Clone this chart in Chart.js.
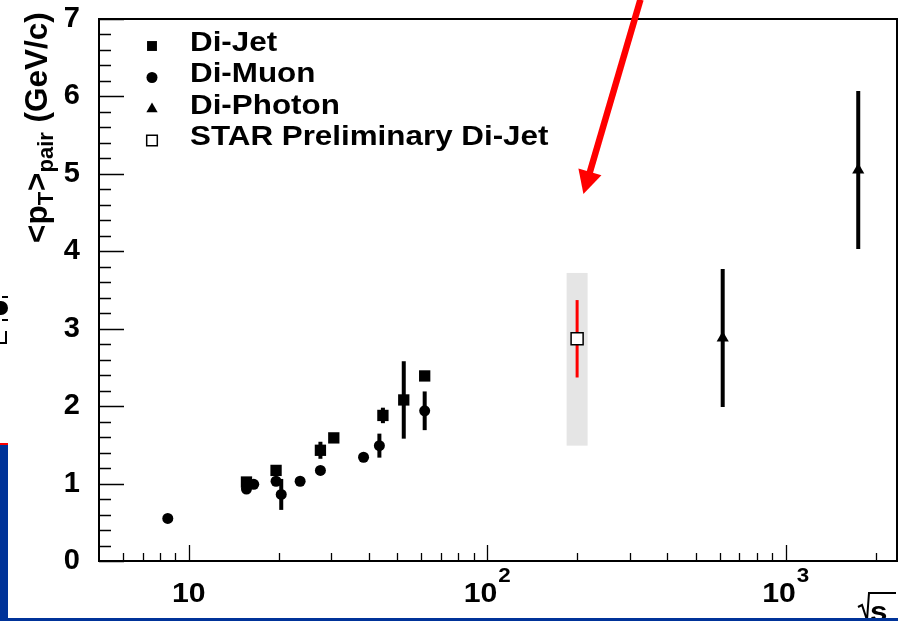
<!DOCTYPE html>
<html lang="en">
<head>
<meta charset="UTF-8">
<title>pT pair vs sqrt(s)</title>
<style>
  html, body { margin: 0; padding: 0; background: #fff; }
  #wrap { width: 910px; height: 621px; }
</style>
<script src="https://cdn.jsdelivr.net/npm/chart.js"></script>
</head>
<body>
<div id="wrap"><canvas id="c" width="910" height="621"></canvas></div>
<script>
// values
const jetX = [15.6, 19.6, 27.6, 30.6, 44.7, 52.5, 61.7];
const jetY = [1.02, 1.17, 1.43, 1.59, 1.88, 2.08, 2.39];
const jetErr = [0.03, 0.05, 0.11, 0.06, 0.1, 0.5, 0.06];

const muonX = [8.5, 15.6, 16.5, 19.6, 20.4, 23.6, 27.6, 38.5, 43.5, 61.7];
const muonY = [0.55, 0.93, 0.99, 1.03, 0.86, 1.03, 1.17, 1.34, 1.49, 1.94];
const muonErr = [0, 0, 0, 0, 0.2, 0, 0, 0, 0.155, 0.25];

const photonX = [615, 1750];
const photonY = [2.88, 5.05];
const photonErr = [0.89, 1.02];

const starX = [200];
const starY = [2.87];
const starErr = [0.5];
const starSysLow = [1.38];
const starSysHigh = [0.85];

const xTickValues = [10, 100, 1000];
const xTickBase = ['10', '10', '10'];
const xTickExp = ['', '2', '3'];
const yTitle = ['<p', 'T', '>', 'pair', ' (GeV/c)'];

// annotation arrow (data coords)
const arrowTail = { x: 326, y: 7.25 };
const arrowTip = { x: 210, y: 4.74 };

const FONT = "'Liberation Sans', Arial, sans-serif";
const STRETCH = 1.12; // text in the picture is a bit wide

function pts(xs, ys) {
  return xs.map((x, i) => ({ x: x, y: ys[i] }));
}

function wideText(ctx, t, x, y) {
  ctx.save();
  ctx.translate(x, y);
  ctx.scale(STRETCH, 1);
  ctx.fillText(t, 0, 0);
  ctx.restore();
}

const decor = {
  id: 'decor',
  beforeDatasetsDraw(chart) {
    const ctx = chart.ctx, sx = chart.scales.x, sy = chart.scales.y;
    ctx.save();
    // STAR systematic band
    ctx.fillStyle = '#e5e5e5';
    starX.forEach((x, i) => {
      const px = sx.getPixelForValue(x);
      const top = sy.getPixelForValue(starY[i] + starSysHigh[i]);
      const bot = sy.getPixelForValue(starY[i] - starSysLow[i]);
      ctx.fillRect(px - 10.5, top, 21, bot - top);
    });
    // error bars
    const bars = (xs, ys, es, color, w) => {
      ctx.strokeStyle = color;
      ctx.lineWidth = w;
      xs.forEach((x, i) => {
        if (!es[i]) return;
        const px = sx.getPixelForValue(x);
        ctx.beginPath();
        ctx.moveTo(px, sy.getPixelForValue(ys[i] - es[i]));
        ctx.lineTo(px, sy.getPixelForValue(ys[i] + es[i]));
        ctx.stroke();
      });
    };
    bars(jetX, jetY, jetErr, '#000', 4);
    bars(muonX, muonY, muonErr, '#000', 4);
    bars(photonX, photonY, photonErr, '#000', 4);
    bars(starX, starY, starErr, '#ff0000', 3);
    ctx.restore();
  },
  afterDraw(chart) {
    const ctx = chart.ctx, a = chart.chartArea;
    const sx = chart.scales.x, sy = chart.scales.y;
    ctx.save();

    // frame
    ctx.strokeStyle = '#000';
    ctx.lineWidth = 2;
    ctx.strokeRect(a.left, a.top, a.right - a.left, a.bottom - a.top);

    // inward ticks
    ctx.lineWidth = 1.3;
    ctx.beginPath();
    for (let k = 0; k <= 35; k++) {
      const v = k * 0.2;
      const py = Math.round(sy.getPixelForValue(v)) + 0.5;
      const len = k % 5 === 0 ? 25 : 12;
      ctx.moveTo(a.left, py);
      ctx.lineTo(a.left + len, py);
    }
    [1, 10, 100, 1000].forEach(d => {
      for (let m = 1; m <= 9; m++) {
        const v = m * d;
        if (v <= sx.min || v >= sx.max) continue;
        const px = Math.round(sx.getPixelForValue(v)) + 0.5;
        const len = m === 1 ? 16 : 8;
        ctx.moveTo(px, a.bottom);
        ctx.lineTo(px, a.bottom - len);
      }
    });
    ctx.stroke();

    // x tick labels with exponents
    ctx.fillStyle = '#000';
    ctx.textBaseline = 'alphabetic';
    ctx.textAlign = 'left';
    xTickValues.forEach((v, i) => {
      ctx.font = 'bold 27px ' + FONT;
      const wb = ctx.measureText(xTickBase[i]).width * STRETCH;
      ctx.font = 'bold 20px ' + FONT;
      const we = xTickExp[i] ? ctx.measureText(xTickExp[i]).width * STRETCH + 1 : 0;
      const x0 = sx.getPixelForValue(v) - (wb + we) / 2;
      ctx.font = 'bold 27px ' + FONT;
      wideText(ctx, xTickBase[i], x0, 602);
      if (xTickExp[i]) {
        ctx.font = 'bold 20px ' + FONT;
        wideText(ctx, xTickExp[i], x0 + wb + 1, 582);
      }
    });

    // legend
    const rows = [
      { ds: 0, r: 7 },
      { ds: 1, r: 5.5 },
      { ds: 2, r: 6.5 },
      { ds: 3, r: 7.5 }
    ];
    rows.forEach((row, i) => {
      const ds = chart.data.datasets[row.ds];
      const yy = 43 + i * 31.5;
      ctx.fillStyle = ds.pointBackgroundColor;
      ctx.strokeStyle = ds.pointBorderColor;
      ctx.lineWidth = ds.pointBorderWidth;
      Chart.helpers.drawPoint(ctx, { pointStyle: ds.pointStyle, radius: row.r, borderWidth: ds.pointBorderWidth, rotation: 0 }, 152, yy + 3);
      ctx.fillStyle = '#000';
      ctx.font = 'bold 28px ' + FONT;
      ctx.textBaseline = 'middle';
      wideText(ctx, ds.label, 190, yy);
    });

    // y title with subscripts
    ctx.save();
    ctx.translate(47, 243);
    ctx.rotate(-Math.PI / 2);
    ctx.fillStyle = '#000';
    ctx.textBaseline = 'alphabetic';
    let cx = 0;
    yTitle.forEach((t, i) => {
      const sub = i === 1 || i === 3;
      ctx.font = 'bold ' + (sub ? 22 : 31.5) + 'px ' + FONT;
      ctx.fillText(t, cx, sub ? 6 : 0);
      cx += ctx.measureText(t).width + (sub ? 1 : 0);
    });
    ctx.restore();

    // x title: sqrt(s)
    ctx.fillStyle = '#000';
    ctx.font = 'bold 28px ' + FONT;
    ctx.textBaseline = 'alphabetic';
    wideText(ctx, 's', a.right - 27, 621);
    ctx.lineWidth = 2;
    ctx.beginPath();
    ctx.moveTo(a.right - 39, 607);
    ctx.lineTo(a.right - 35, 605);
    ctx.lineTo(a.right - 30, 620);
    ctx.lineTo(a.right - 28, 593);
    ctx.lineTo(a.right - 1, 593);
    ctx.stroke();

    // red arrow
    const tx = sx.getPixelForValue(arrowTail.x), ty = sy.getPixelForValue(arrowTail.y);
    const hx = sx.getPixelForValue(arrowTip.x), hy = sy.getPixelForValue(arrowTip.y);
    const L = Math.hypot(hx - tx, hy - ty), ux = (hx - tx) / L, uy = (hy - ty) / L;
    const bx = hx - ux * 23, by = hy - uy * 23;
    ctx.strokeStyle = '#ff0000';
    ctx.fillStyle = '#ff0000';
    ctx.lineWidth = 6.5;
    ctx.beginPath();
    ctx.moveTo(tx, ty);
    ctx.lineTo(bx + ux * 2, by + uy * 2);
    ctx.stroke();
    ctx.beginPath();
    ctx.moveTo(hx, hy);
    ctx.lineTo(bx - uy * 12, by + ux * 12);
    ctx.lineTo(bx + uy * 12, by - ux * 12);
    ctx.closePath();
    ctx.fill();

    // slide fragments at the left / bottom edge
    ctx.fillStyle = '#003399';
    ctx.fillRect(0, 444, 8, 177);
    ctx.fillRect(0, 618, 898, 3);
    ctx.fillStyle = '#ff0000';
    ctx.fillRect(0, 443, 8, 2);
    ctx.fillStyle = '#000';
    ctx.beginPath();
    ctx.arc(1, 308, 7, 0, Math.PI * 2);
    ctx.fill();
    ctx.fillRect(2, 296, 6, 2);
    ctx.fillRect(2, 319, 6, 2);
    ctx.fillRect(5, 331, 2, 13);
    ctx.fillRect(0, 342, 7, 2);

    ctx.restore();
  }
};

new Chart(document.getElementById('c'), {
  type: 'scatter',
  data: {
    datasets: [
      { label: 'Di-Jet', data: pts(jetX, jetY), pointStyle: 'rect', pointRadius: 8,
        pointBackgroundColor: '#000', pointBorderColor: '#000', pointBorderWidth: 0 },
      { label: 'Di-Muon', data: pts(muonX, muonY), pointStyle: 'circle', pointRadius: 5.5,
        pointBackgroundColor: '#000', pointBorderColor: '#000', pointBorderWidth: 0 },
      { label: 'Di-Photon', data: pts(photonX, photonY), pointStyle: 'triangle', pointRadius: 7,
        pointBackgroundColor: '#000', pointBorderColor: '#000', pointBorderWidth: 0 },
      { label: 'STAR Preliminary Di-Jet', data: pts(starX, starY), pointStyle: 'rect', pointRadius: 8.5,
        pointBackgroundColor: '#ffffff', pointBorderColor: '#000', pointBorderWidth: 1.5 }
    ]
  },
  options: {
    responsive: false,
    animation: false,
    devicePixelRatio: 1,
    layout: { padding: { top: 19, right: 13, left: 0, bottom: 0 } },
    plugins: { legend: { display: false }, tooltip: { enabled: false } },
    scales: {
      x: {
        type: 'logarithmic',
        min: 5,
        max: 2360,
        grid: { display: false },
        border: { display: false },
        afterBuildTicks: s => { s.ticks = xTickValues.map(v => ({ value: v })); },
        afterFit: s => { s.height = 60; s.paddingLeft = 0; s.paddingRight = 0; },
        ticks: { display: false }
      },
      y: {
        min: 0,
        max: 7,
        grid: { display: false },
        border: { display: false },
        afterFit: s => { s.width = 99; s.paddingTop = 0; s.paddingBottom = 0; },
        ticks: {
          stepSize: 1,
          padding: 11,
          color: '#000',
          font: { family: FONT, size: 29, weight: 'bold' }
        }
      }
    }
  },
  plugins: [decor]
});
</script>
</body>
</html>
